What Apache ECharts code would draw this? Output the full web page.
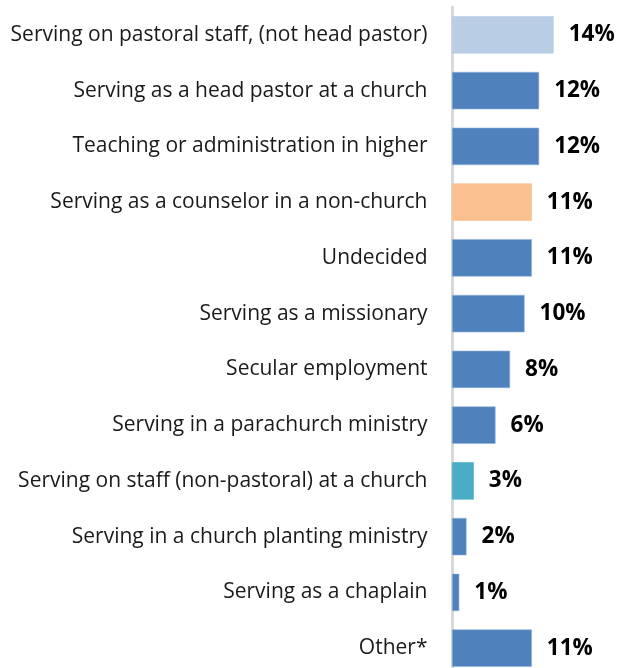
<!DOCTYPE html>
<html>
<head>
<meta charset="utf-8">
<script src="https://cdn.jsdelivr.net/npm/echarts@6/dist/echarts.min.js"></script>
<style>
  html, body { margin: 0; padding: 0; background: #fff; }
  #chart { width: 619px; height: 668px; }
</style>
</head>
<body>
<div id="chart"></div>
<script>
// Post-graduation plans, share of respondents (top to bottom)
const categories = [
  'Serving on pastoral staff, (not head pastor)',
  'Serving as a head pastor at a church',
  'Teaching or administration in higher',
  'Serving as a counselor in a non-church',
  'Undecided',
  'Serving as a missionary',
  'Secular employment',
  'Serving in a parachurch ministry',
  'Serving on staff (non-pastoral) at a church',
  'Serving in a church planting ministry',
  'Serving as a chaplain',
  'Other*'
];
const values = [14, 12, 12, 11, 11, 10, 8, 6, 3, 2, 1, 11];
const barColors = [
  '#B9CDE5', '#4F81BD', '#4F81BD', '#FAC090', '#4F81BD', '#4F81BD',
  '#4F81BD', '#4F81BD', '#4BACC6', '#4F81BD', '#4F81BD', '#4F81BD'
];

const FONT = '"Open Sans", Lato, sans-serif';

const chart = echarts.init(document.getElementById('chart'), null, { renderer: 'canvas' });
chart.setOption({
  animation: false,
  backgroundColor: '#ffffff',
  // plot area runs slightly past the bottom edge so the last band is cut like the rest
  grid: {
    left: 452, top: 7, width: 167, height: 669,
    containLabel: false,
    outerBoundsMode: 'none'
  },
  xAxis: {
    type: 'value',
    min: 0,
    max: 23,
    show: false
  },
  yAxis: {
    type: 'category',
    inverse: true,
    data: categories,
    offset: 1.5,
    axisLine: { show: true, lineStyle: { color: '#D9D9D9', width: 3 } },
    axisTick: { show: false },
    axisLabel: {
      margin: 23,
      color: '#1a1a1a',
      fontFamily: FONT,
      fontSize: 21,
      padding: [3, 0, 0, 0]
    }
  },
  series: [{
    type: 'bar',
    data: values.map((v, i) => ({
      value: v,
      itemStyle: {
        color: barColors[i],
        borderColor: barColors[i] === '#4F81BD' ? '#8FB3DE' : barColors[i],
        borderWidth: 0.6
      }
    })),
    barCategoryGap: '33%',
    label: {
      show: true,
      position: 'right',
      distance: 15,
      formatter: p => p.value + '%',
      fontFamily: FONT,
      fontWeight: 'bold',
      fontSize: 22.5,
      color: '#000',
      padding: [3, 0, 0, 0]
    }
  }]
});
</script>
</body>
</html>
